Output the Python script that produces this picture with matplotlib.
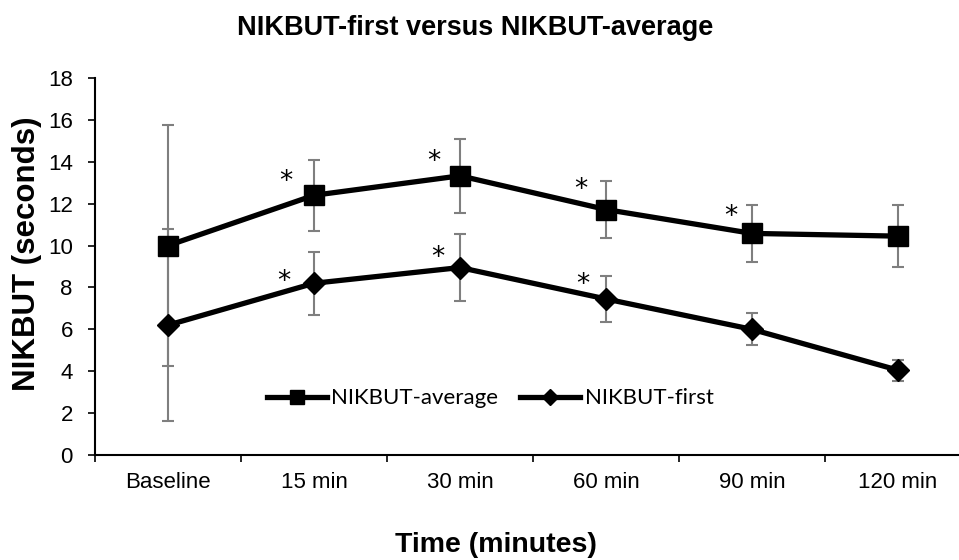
import matplotlib
matplotlib.use("Agg")
import matplotlib.pyplot as plt
import numpy as np

categories = ["Baseline", "15 min", "30 min", "60 min", "90 min", "120 min"]
avg_values = [10.0, 12.4, 13.33, 11.72, 10.58, 10.45]
avg_err = [5.75, 1.7, 1.76, 1.35, 1.36, 1.49]
first_values = [6.2, 8.2, 8.95, 7.45, 6.0, 4.05]
first_err = [4.6, 1.5, 1.58, 1.11, 0.76, 0.5]
avg_signif = [False, True, True, True, True, False]
first_signif = [False, True, True, True, False, False]

# asterisk placement offsets (points) relative to each marker
avg_star_dx = [0, -20, -19, -18, -15, 0]
avg_star_dy = [0, 9.7, 9.7, 14, 11.9, 0]
first_star_dx = [0, -22, -16, -17, 0, 0]
first_star_dy = [0, 1.1, 6.8, 9.7, 0, 0]

plt.rcParams['font.family'] = ['Liberation Sans', 'DejaVu Sans']

fig = plt.figure(figsize=(9.59, 5.6), dpi=100)
ax = fig.add_axes([95/959, 105/560, 876/959, 377/560])

x = np.arange(len(categories))
ecol = '#7f7f7f'
ax.errorbar(x, avg_values, yerr=avg_err, fmt='none', ecolor=ecol, elinewidth=1.5, capsize=4.5, capthick=1.5, zorder=2)
ax.errorbar(x, first_values, yerr=first_err, fmt='none', ecolor=ecol, elinewidth=1.5, capsize=4.5, capthick=1.5, zorder=2)
ax.plot(x, avg_values, color='black', lw=3.8, marker='s', markersize=14, label='NIKBUT-average', zorder=3)
ax.plot(x, first_values, color='black', lw=3.8, marker='D', markersize=11.5, label='NIKBUT-first', zorder=3)

for xi, v, s, dx, dy in zip(x, avg_values, avg_signif, avg_star_dx, avg_star_dy):
    if s:
        ax.annotate('*', (xi, v), xytext=(dx, dy), textcoords='offset points', ha='center', va='center',
                    fontsize=19, family=['DejaVu Sans'])
for xi, v, s, dx, dy in zip(x, first_values, first_signif, first_star_dx, first_star_dy):
    if s:
        ax.annotate('*', (xi, v), xytext=(dx, dy), textcoords='offset points', ha='center', va='center',
                    fontsize=19, family=['DejaVu Sans'])

ax.set_xlim(-0.5, 5.5)
ax.set_ylim(0, 18)
ax.set_yticks(np.arange(0, 19, 2))
ax.set_xticks(x)
ax.set_xticklabels(categories)
ax.set_xticks(np.arange(-0.5, 6, 1), minor=True)
ax.tick_params(axis='x', which='major', length=0, pad=12, labelsize=16)
ax.tick_params(axis='x', which='minor', length=5, width=1.2, direction='out')
ax.tick_params(axis='y', length=5, width=1.2, labelsize=16, pad=11)
for sp in ['top', 'right']:
    ax.spines[sp].set_visible(False)
for sp in ['left', 'bottom']:
    ax.spines[sp].set_linewidth(1.5)

fig.text(27/959, 1 - 254/560, 'NIKBUT (seconds)', rotation=90, ha='center', va='center',
         fontsize=22.5, fontweight='bold')
fig.text(496/959, 1 - 545/560, 'Time (minutes)', ha='center', va='center', fontsize=20.5, fontweight='bold')
fig.text(475/959, 1 - 28/560, 'NIKBUT-first versus NIKBUT-average', ha='center', va='center',
         fontsize=19.5, fontweight='bold')

leg = ax.legend(loc='center', bbox_to_anchor=((490 - 95) / 876, 2.7 / 18), ncol=2, frameon=False,
                prop={'family': ['Lato', 'DejaVu Sans'], 'size': 16}, handlelength=2.7,
                columnspacing=1.0, handletextpad=0.2, markerscale=0.75)

fig.savefig('out.png', dpi=100)
